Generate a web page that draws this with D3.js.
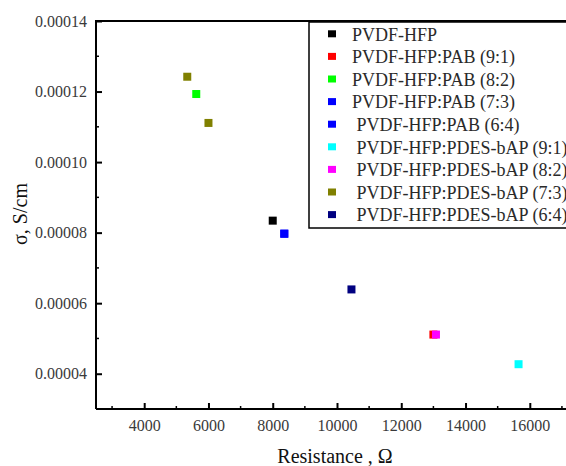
<!DOCTYPE html>
<meta charset="utf-8">
<style>
body { margin: 0; background: #fff; }
svg { display: block; }
svg text { font-family: "Liberation Serif", "Times New Roman", "DejaVu Serif", serif; }
.legend text { font-size: 18px; fill: #2a2a2a; }
.title { font-size: 20px; fill: #111; }
.tick text { font-size: 16px; fill: #3a3a3a; }
</style>
<svg width="566" height="466"></svg>
<script src="https://d3js.org/d3.v7.min.js"></script>
<script>

// series labels and colours, in legend order
var labels = ["PVDF-HFP", "PVDF-HFP:PAB (9:1)", "PVDF-HFP:PAB (8:2)", "PVDF-HFP:PAB (7:3)",
  " PVDF-HFP:PAB (6:4)", " PVDF-HFP:PDES-bAP (9:1)", " PVDF-HFP:PDES-bAP (8:2)",
  " PVDF-HFP:PDES-bAP (7:3)", " PVDF-HFP:PDES-bAP (6:4)"];
var colors = ["#000000", "#ff0000", "#00ff00", "#0000ff", "#0000ff", "#00ffff", "#ff00ff", "#808000", "#000080"];

// resistance (ohm) and conductivity (S/cm) per series
var resistance = [[8000], [13000], [5620], [8360], [8360], [15650], [13080], [5340, 6000], [10450]];
var sigma = [[0.0000834], [0.0000511], [0.0001193], [0.0000797], [0.0000797], [0.0000427], [0.0000511], [0.0001242, 0.0001111], [0.0000639]];

var xTicks = [4000, 6000, 8000, 10000, 12000, 14000, 16000];
var yTicks = [0.00004, 0.00006, 0.00008, 0.00010, 0.00012, 0.00014];

var svg = d3.select("svg");
var mLeft = 96, mTop = 21, mRight = 578, mBottom = 409;

var x = d3.scaleLinear().domain([2500, 17500]).range([mLeft, mRight]);
var y = d3.scaleLinear().domain([0.00003, 0.00014]).range([mBottom, mTop]);

// minor ticks
var xMinor = d3.range(3000, 17500, 2000);
var yMinor = d3.range(5, 14, 2).map(function(d) { return d / 100000; });

svg.selectAll(".xminor").data(xMinor).enter().append("line")
    .attr("x1", function(d) { return x(d); }).attr("x2", function(d) { return x(d); })
    .attr("y1", mBottom).attr("y2", mBottom - 3)
    .attr("stroke", "#000").attr("stroke-width", 1.5);
svg.selectAll(".yminor").data(yMinor).enter().append("line")
    .attr("y1", function(d) { return y(d); }).attr("y2", function(d) { return y(d); })
    .attr("x1", mLeft).attr("x2", mLeft + 3)
    .attr("stroke", "#000").attr("stroke-width", 1.5);

var xAxis = svg.append("g")
    .attr("transform", "translate(0," + mBottom + ")")
    .call(d3.axisBottom(x).tickValues(xTicks).tickSizeInner(-6).tickSizeOuter(0).tickPadding(11).tickFormat(d3.format("d")));
var yAxis = svg.append("g")
    .attr("transform", "translate(" + mLeft + ",0)")
    .call(d3.axisLeft(y).tickValues(yTicks).tickSizeInner(-6).tickSizeOuter(0).tickPadding(9).tickFormat(d3.format(".5f")));

[xAxis, yAxis].forEach(function(a) {
  a.attr("font-family", null).attr("font-size", null);
  a.select(".domain").remove();
  a.selectAll(".tick line").attr("stroke-width", 2);
});

// frame
svg.append("path")
    .attr("d", "M" + mLeft + "," + mBottom + "V" + mTop + "H" + (mRight + 20) + "M" + mLeft + "," + mBottom + "H" + (mRight + 20))
    .attr("fill", "none").attr("stroke", "#000").attr("stroke-width", 2);

// points
var points = [];
labels.forEach(function(l, i) {
  resistance[i].forEach(function(r, j) { points.push({ r: r, s: sigma[i][j], c: colors[i] }); });
});
svg.selectAll(".pt").data(points).enter().append("rect")
    .attr("x", function(d) { return x(d.r) - 4; })
    .attr("y", function(d) { return y(d.s) - 4; })
    .attr("width", 8).attr("height", 8)
    .attr("fill", function(d) { return d.c; });

// legend
var legend = svg.append("g").attr("class", "legend");
legend.append("rect")
    .attr("x", 309).attr("y", 22).attr("width", 300).attr("height", 206)
    .attr("fill", "#fff").attr("stroke", "#000").attr("stroke-width", 1.5);
var row = legend.selectAll(".row").data(labels).enter().append("g")
    .attr("transform", function(d, i) { return "translate(332," + (34.3 + i * 22.6) + ")"; });
row.append("rect").attr("x", -4).attr("y", -4).attr("width", 8).attr("height", 7)
    .attr("fill", function(d, i) { return colors[i]; });
row.append("text").attr("x", 20).attr("dy", "0.35em")
    .style("white-space", "pre")
    .text(function(d) { return d; });

svg.append("text").attr("class", "title")
    .attr("x", 335).attr("y", 463).attr("text-anchor", "middle")
    .text("Resistance , \u03a9");
svg.append("text").attr("class", "title")
    .attr("transform", "translate(27,214) rotate(-90)")
    .attr("text-anchor", "middle")
    .text("\u03c3, S/cm");

</script>
